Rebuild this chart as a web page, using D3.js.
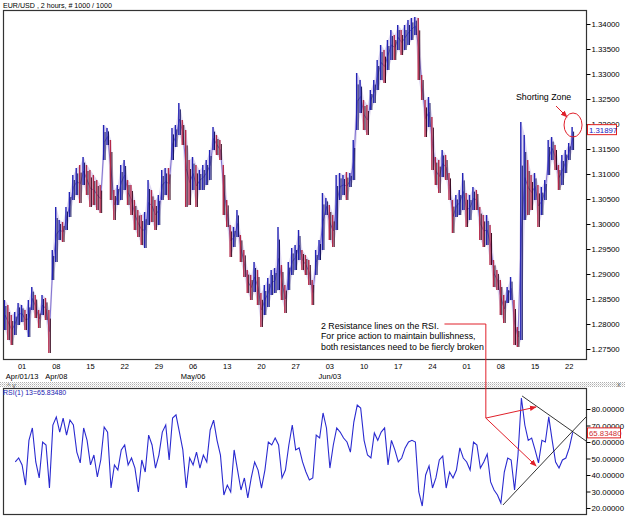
<!DOCTYPE html>
<html><head><meta charset="utf-8">
<script src="https://cdn.jsdelivr.net/npm/d3@7"></script>
<style>body{margin:0;background:#fff}svg{display:block}text{font-family:"Liberation Sans",Arial,sans-serif}</style>
</head><body><svg id="c" width="625" height="518"></svg>
<script>
// ---- data (12-hour samples) ----
const hi = [
1.2848,1.2838,1.2818,1.2824,1.2842,1.2838,1.2828,1.2848,1.2874,1.2858,
1.2828,1.2858,1.2852,1.2828,1.2948,1.3034,1.3008,1.3004,1.3034,1.3064,
1.3098,1.3112,1.3118,1.3134,1.3118,1.3108,1.3098,1.3088,1.3078,1.3198,
1.3192,1.3168,1.3068,1.3078,1.3118,1.3128,1.3088,1.3078,1.3048,1.3028,
1.3018,1.3024,1.3088,1.3068,1.3048,1.3058,1.3108,1.3112,1.3112,1.3192,
1.3198,1.3242,1.3208,1.3188,1.3128,1.3134,1.3118,1.3108,1.3118,1.3128,
1.3148,1.3194,1.3178,1.3168,1.3118,1.3048,1.2998,1.2994,1.3028,1.2978,
1.2948,1.2908,1.2898,1.2924,1.2908,1.2862,1.2878,1.2892,1.2908,1.2912,
1.2994,1.2918,1.2878,1.2924,1.2952,1.2958,1.2988,1.2948,1.2938,1.2928,
1.2888,1.2948,1.2968,1.3062,1.3052,1.3038,1.3018,1.3098,1.3102,1.3098,
1.3104,1.3102,1.3168,1.3302,1.3288,1.3248,1.3238,1.3268,1.3288,1.3328,
1.3358,1.3348,1.3368,1.3388,1.3378,1.3398,1.3388,1.3398,1.3408,1.3412,
1.3414,1.3412,1.3298,1.3248,1.3254,1.3214,1.3134,1.3128,1.3148,1.3138,
1.3102,1.3048,1.3058,1.3068,1.3102,1.3062,1.3058,1.3074,1.3068,1.3034,
1.3018,1.3018,1.2998,1.2928,1.2908,1.2888,1.2858,1.2874,1.2894,1.2848,
1.2794,1.3204,1.3178,1.3128,1.3098,1.3102,1.3078,1.3074,1.3088,1.3168,
1.3174,1.3158,1.3118,1.3138,1.3148,1.3162,1.3194];
const lo = [
1.2788,1.2768,1.2758,1.2778,1.2798,1.2804,1.2788,1.2774,1.2828,1.2812,
1.2792,1.2818,1.2808,1.2742,1.2888,1.2924,1.2968,1.2964,1.2988,1.3014,
1.3048,1.3058,1.3042,1.3078,1.3058,1.3034,1.3038,1.3028,1.3022,1.3128,
1.3158,1.3048,1.3008,1.3038,1.3048,1.3068,1.3038,1.3018,1.2988,1.2974,
1.2958,1.2952,1.2998,1.3004,1.2988,1.2998,1.3048,1.3058,1.3048,1.3128,
1.3154,1.3178,1.3158,1.3034,1.3038,1.3068,1.3034,1.3068,1.3068,1.3078,
1.3088,1.3148,1.3138,1.3128,1.3018,1.2994,1.2934,1.2954,1.2974,1.2924,
1.2894,1.2862,1.2848,1.2864,1.2838,1.2794,1.2818,1.2834,1.2858,1.2862,
1.2868,1.2848,1.2822,1.2868,1.2898,1.2908,1.2928,1.2908,1.2898,1.2878,
1.2838,1.2898,1.2928,1.2948,1.3018,1.2968,1.2954,1.2988,1.3048,1.3058,
1.3048,1.3074,1.3088,1.3188,1.3222,1.3188,1.3178,1.3228,1.3242,1.3268,
1.3288,1.3282,1.3308,1.3328,1.3328,1.3348,1.3338,1.3348,1.3358,1.3368,
1.3378,1.3288,1.3248,1.3174,1.3194,1.3108,1.3078,1.3062,1.3094,1.3088,
1.3048,1.2982,1.3014,1.3018,1.3028,1.2994,1.3008,1.3028,1.3028,1.2968,
1.2954,1.2958,1.2918,1.2874,1.2868,1.2818,1.2802,1.2842,1.2848,1.2758,
1.2754,1.2768,1.3008,1.3018,1.3028,1.3048,1.2994,1.3018,1.3048,1.3098,
1.3128,1.3108,1.3068,1.3078,1.3102,1.3128,1.3148];
const lastClose = 1.31897;

const rsiStart = 3;
const rsi = [
47.9,50.3,46.1,33.9,61,68.5,47.9,38.2,60,58.2,
32.1,70.3,75.2,66,74.5,64.2,73.3,70.3,53.9,47.3,
68.5,61,46.1,52.1,38.8,49.1,69.1,66,32.1,46.1,
43,55.2,58.2,46.1,50.3,44.2,29.7,49.1,41.8,64.2,
58.2,44.2,52.1,66,70.3,49.1,74.5,76.4,66,55.2,
32.1,50.3,46.1,53.9,44.2,52.1,47.9,67.3,73.3,61,
52.1,27.9,33.9,29.7,55.2,43,30.9,38.2,26.1,38.2,
47.9,43,32.1,43,60,58.2,62.4,58.2,38.2,43,
58.2,70.3,55.2,56.4,47.9,41.8,37,38.2,64.2,62.4,
77.6,68.5,44.2,58.2,68.5,66,62.4,60,53.9,72.1,
82.4,80.6,61,52.1,50.3,65.5,61,66,68.5,46.1,
61,55.2,47.9,50.3,56.4,60,61,60,29.7,21.2,
40,45.5,32.1,38.2,49.1,51.5,32.1,41.8,38.2,43,
56.4,50.3,47.9,43,60,58.2,44.2,47.9,52.7,35.8,
30.9,27.9,23,41.8,50.3,49.1,30.9,52.1,86.7,70.3,
61,62.4,55.2,47.3,61,60,75.2,61,47.9,44.2,
49.1,50.3,56.4,65.8348];
const lastRsi = 65.83480;

const priceTicks = [1.275,1.28,1.285,1.29,1.295,1.30,1.305,1.31,1.315,1.32,1.325,1.33,1.335,1.34];
const rsiTicks = [20,30,40,50,60,70,80];
const dayLabels = ["01","08","15","22","29","06","13","20","27","03","10","17","24","01","08","15","22"];
const monthLabels = [["Apr/01/13",0],["Apr/08",1],["May/06",5],["Jun/03",9]]; // [text, week number]
const samplesPerWeek = 10, firstWeekSample = 5;

// trend lines on RSI: [sampleIndex, rsi]
const upperTrend = [[151.2,87.9],[169.9,60.6]];
const lowerTrend = [[145.6,21.8],[169.9,75.2]];
// annotation anchors
const calloutPrice = 1.2800, calloutIdx0 = 128.5, calloutIdx = 140.6, calloutRsi = 74.5;
const arrowTargets = [[155.3,81.2],[155.3,45.5]];
const zoneCenter = [166.1, 1.3198];

// ---- layout ----
const svg = d3.select("#c");
const L = 3.5, R = 586.5, T1 = 10.5, B1 = 359.5, T2 = 388.5, B2 = 514.5;
const N = hi.length;
const x = d3.scaleLinear().domain([0, N-1]).range([5, 572.7]);
const y = d3.scaleLinear().domain([1.275, 1.34]).range([349, 24]);
const yr = d3.scaleLinear().domain([20, 80]).range([508, 409]);

svg.append("defs").html(`
 <clipPath id="cp1"><rect x="${L}" y="${T1}" width="${R-L}" height="${B1-T1}"/></clipPath>
 <clipPath id="cp2"><rect x="${L}" y="${T2}" width="${R-L}" height="${B2-T2}"/></clipPath>
 <pattern id="dots" width="2" height="2" patternUnits="userSpaceOnUse"><rect width="1" height="1" fill="#b0b0b0"/><rect x="1" y="1" width="1" height="1" fill="#d8d8d8"/></pattern>
 <marker id="ah" viewBox="0 0 10 10" refX="9" refY="5" markerWidth="7" markerHeight="7" orient="auto"><path d="M0,1L10,5L0,9z" fill="#e0202a"/></marker>`);

// title
svg.append("text").attr("x",3).attr("y",8).attr("font-size",7.1).attr("fill","#000").text("EUR/USD , 2 hours, # 1000 / 1000");

// frames
svg.append("rect").attr("x",L).attr("y",T1).attr("width",R-L).attr("height",B1-T1).attr("fill","#fff").attr("stroke","#333").attr("stroke-width",1.2);
svg.append("rect").attr("x",L).attr("y",T2).attr("width",R-L).attr("height",B2-T2).attr("fill","#fff").attr("stroke","#333").attr("stroke-width",1.2);
svg.append("rect").attr("x",0).attr("y",382).attr("width",625).attr("height",5).attr("fill","url(#dots)");

// bars
const gb = svg.append("g").attr("clip-path","url(#cp1)");
const idx = d3.range(N);
gb.append("path").attr("d", d3.area().x(i=>x(i)).y0(i=>y(lo[i])).y1(i=>y(hi[i])).curve(d3.curveLinear)(idx))
  .attr("fill","#b8a8e0").attr("opacity",0.45);
const mid = hi.map((h,i)=>(h+lo[i])/2);
gb.append("path").attr("d", d3.line().x(i=>x(i)).y(i=>y(mid[i]))(idx))
  .attr("fill","none").attr("stroke","#6a5ac8").attr("stroke-width",1).attr("opacity",0.8);
hi.forEach((h,i)=>{
  const up = i===0 ? true : mid[i] >= mid[i-1];
  const cx = x(i);
  gb.append("line").attr("x1",cx-0.6).attr("x2",cx-0.6).attr("y1",y(h)).attr("y2",y(lo[i]))
    .attr("stroke", up ? "#2222b4" : "#b42848").attr("stroke-width",1.4);
  gb.append("line").attr("x1",cx+0.9).attr("x2",cx+0.9).attr("y1",y(h)+ (y(lo[i])-y(h))*0.2).attr("y2",y(lo[i]))
    .attr("stroke", up ? "#141460" : "#3a0a20").attr("stroke-width",1);
});

// price axis
const ax = svg.append("g").attr("transform",`translate(${R},0)`)
  .call(d3.axisRight(y).tickValues(priceTicks).tickFormat(d3.format(".5f")).tickSize(4).tickPadding(1));
ax.select(".domain").remove();
ax.selectAll("text").attr("font-size",7.8).attr("fill","#000").attr("font-family","Liberation Sans, Arial");
ax.selectAll("line").attr("stroke","#000");

// current price box
const cy = y(lastClose);
svg.append("rect").attr("x",587.5).attr("y",cy-4.5).attr("width",29).attr("height",10).attr("fill","#fff").attr("stroke","#e02020");
svg.append("text").attr("x",589).attr("y",cy+3.4).attr("font-size",7.8).attr("fill","#2020c0").text(d3.format(".5f")(lastClose));

// date labels
dayLabels.forEach((d,k)=>{
  svg.append("text").attr("x",x(firstWeekSample+k*samplesPerWeek)).attr("y",369).attr("text-anchor","middle").attr("font-size",7.5).text(d);
});
monthLabels.forEach(([t,k])=>{
  svg.append("text").attr("x",x(firstWeekSample+k*samplesPerWeek)).attr("y",378.5).attr("text-anchor","middle").attr("font-size",7.5).text(t);
});

// RSI
const g2 = svg.append("g").attr("clip-path","url(#cp2)");
const line = d3.line().x((d,i)=>x(i+rsiStart)).y(d=>yr(d));
g2.append("path").attr("d",line(rsi)).attr("fill","none").attr("stroke","#2a2ad0").attr("stroke-width",1.1);
const tl = d3.line().x(d=>x(d[0])).y(d=>yr(d[1]));
g2.append("path").attr("d",tl(upperTrend)).attr("stroke","#000").attr("stroke-width",0.8).attr("fill","none");
g2.append("path").attr("d",tl(lowerTrend)).attr("stroke","#000").attr("stroke-width",0.8).attr("fill","none");

const ax2 = svg.append("g").attr("transform",`translate(${R},0)`)
  .call(d3.axisRight(yr).tickValues(rsiTicks).tickFormat(d3.format(".5f")).tickSize(4).tickPadding(1));
ax2.select(".domain").remove();
ax2.selectAll("text").attr("font-size",7.8).attr("fill","#000").attr("font-family","Liberation Sans, Arial");
ax2.selectAll("line").attr("stroke","#000");
const ry = yr(lastRsi);
svg.append("rect").attr("x",587.5).attr("y",ry-4.5).attr("width",33).attr("height",10).attr("fill","#fff").attr("stroke","#e02020");
svg.append("text").attr("x",589).attr("y",ry+3.4).attr("font-size",7.8).attr("fill","#d03030").text(d3.format(".5f")(lastRsi));
svg.append("text").attr("x",3).attr("y",395).attr("font-size",7).attr("fill","#2020b0").text("RSI(1) 13=" + d3.format(".5f")(lastRsi));

// annotations
const notes = ["2 Resistance lines on the RSI.","For price action to maintain bullishness,","both resistances need to be fiercly broken"];
notes.forEach((t,k)=>svg.append("text").attr("x",321).attr("y",329+k*10.3).attr("font-size",8.8).attr("fill","#000").text(t));
svg.append("path").attr("d",`M${x(calloutIdx0)},${y(calloutPrice)}H${x(calloutIdx)}V${yr(calloutRsi)}`)
  .attr("fill","none").attr("stroke","#e0202a").attr("stroke-width",1);
arrowTargets.forEach(([i,v])=>{
  svg.append("line").attr("x1",x(calloutIdx)).attr("y1",yr(calloutRsi)).attr("x2",x(i)).attr("y2",yr(v))
    .attr("stroke","#e0202a").attr("stroke-width",1).attr("marker-end","url(#ah)");
});
svg.append("text").attr("x",516).attr("y",100).attr("font-size",8.8).attr("fill","#000").text("Shorting Zone");
svg.append("line").attr("x1",556).attr("y1",106).attr("x2",x(zoneCenter[0])-6).attr("y2",y(zoneCenter[1])-8)
  .attr("stroke","#e0202a").attr("stroke-width",1).attr("marker-end","url(#ah)");
svg.append("ellipse").attr("cx",x(zoneCenter[0])).attr("cy",y(zoneCenter[1])).attr("rx",9).attr("ry",12)
  .attr("fill","none").attr("stroke","#e0202a").attr("stroke-width",1);

// small panel icons
svg.append("text").attr("x",7).attr("y",388).attr("font-size",7).attr("fill","#666").text("^ v");
svg.append("text").attr("x",617).attr("y",387).attr("font-size",7).attr("fill","#666").text("x");
</script></body></html>
